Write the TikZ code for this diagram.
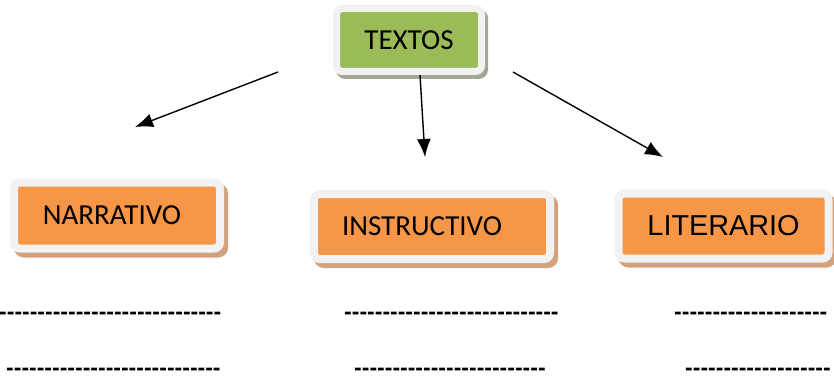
\documentclass[tikz,border=0pt]{standalone}
\usepackage{fontspec}
\newfontfamily\calibri{Carlito}
\newfontfamily\arial{Liberation Sans}
\usetikzlibrary{arrows.meta}
\definecolor{verde}{HTML}{9BBB59}
\definecolor{naranja}{HTML}{F79646}
\definecolor{borde}{HTML}{F2F2F2}
\definecolor{sombragris}{HTML}{A6A696}
\definecolor{sombrasepia}{HTML}{D4A17E}
\newcommand{\guiones}[1]{\foreach \i in {1,...,#1}{-}}
\begin{document}
\begin{tikzpicture}[x=1pt,y=-1pt,
  caja/.style={draw=borde, line width=8pt, rounded corners=6pt, inner sep=0pt,
    minimum height=65pt, font=\calibri\fontsize{29}{34}\selectfont},
  cajaverde/.style={caja, fill=verde, line width=7pt,
    preaction={draw=sombragris, fill=sombragris, transform canvas={shift={(3,4)}}}},
  cajanaranja/.style={caja, fill=naranja,
    preaction={draw=sombrasepia, fill=sombrasepia, transform canvas={shift={(4,5)}}}},
  flecha/.style={-{Latex[length=18pt,width=14pt]}, line width=1.4pt},
  linea/.style={anchor=base west, inner sep=0pt, font=\arial\bfseries\fontsize{23}{26}\selectfont}]
\useasboundingbox (0,0) rectangle (834,377);
% cajas
\node[cajaverde, minimum width=145pt, minimum height=63pt] (textos) at (409,40) {TEXTOS};
\node[cajanaranja, minimum width=206pt, minimum height=66pt] (narrativo) at (117,215.5) {NARRATIVO\hspace*{10pt}};
\node[cajanaranja, minimum width=236pt] (instructivo) at (432,226.5) {INSTRUCTIVO\hspace*{20pt}};
\node[cajanaranja, minimum width=210pt, font=\arial\fontsize{28.8}{34}\selectfont] (literario) at (723.5,226) {LITERARIO};
% flechas
\coordinate (f1a) at (278,72);  \coordinate (f1b) at (135,127);
\coordinate (f2a) at (420,75);  \coordinate (f2b) at (425,157);
\coordinate (f3a) at (513,72);  \coordinate (f3b) at (663,157);
\draw[flecha] (f1a) -- (f1b);
\draw[flecha] (f2a) -- (f2b);
\draw[flecha] (f3a) -- (f3b);
% renglones
\node[linea] (r1a) at (-1,319) {\guiones{29}};
\node[linea] (r1b) at (344,319) {\guiones{28}};
\node[linea] (r1c) at (674,319) {\guiones{20}};
\node[linea] (r2a) at (6,375.5) {\guiones{28}};
\node[linea] (r2b) at (354,375.5) {\guiones{25}};
\node[linea] (r2c) at (685,375.5) {\guiones{19}};
\end{tikzpicture}
\end{document}
